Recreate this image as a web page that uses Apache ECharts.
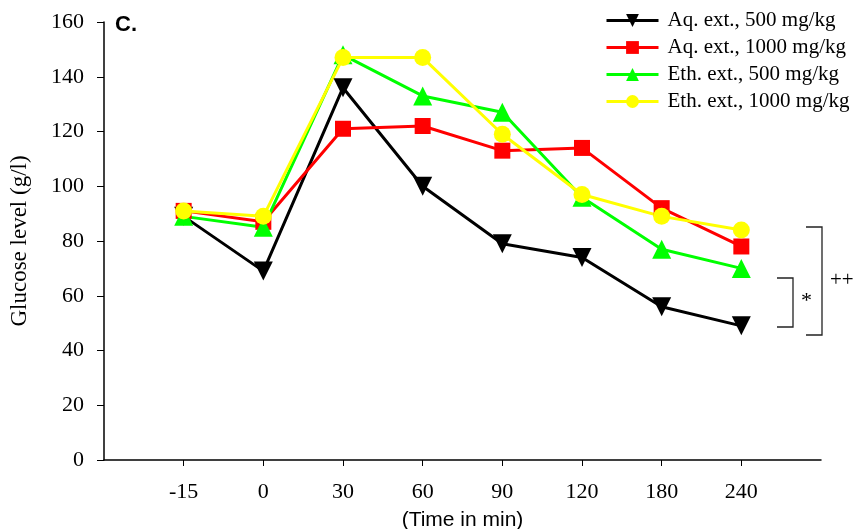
<!DOCTYPE html>
<html>
<head>
<meta charset="utf-8">
<script src="https://cdn.jsdelivr.net/npm/echarts@6/dist/echarts.min.js"></script>
<style>html,body{margin:0;padding:0;background:#fff;}#c{width:856px;height:529px;}</style>
</head>
<body>
<div id="c"></div>
<script>
const categories = ['-15', '0', '30', '60', '90', '120', '180', '240'];
const seriesNames = ['Aq. ext., 500 mg/kg', 'Aq. ext., 1000 mg/kg', 'Eth. ext., 500 mg/kg', 'Eth. ext., 1000 mg/kg'];
const aq500 = [89, 69, 136, 100, 79, 74, 56, 49];
const aq1000 = [91, 87, 121, 122, 113, 114, 92, 78];
const eth500 = [89, 85, 148, 133, 127, 96, 77, 70];
const eth1000 = [91, 89, 147, 147, 119, 97, 89, 84];
const yTicks = [0, 20, 40, 60, 80, 100, 120, 140, 160];

const chart = echarts.init(document.getElementById('c'));
const serif = 'Liberation Serif';
const sans = 'Liberation Sans';
function mk(name, data, color, symbol, size) {
  return {
    name: name, type: 'line',
    data: data.map((v, i) => [i, v]),
    symbol: symbol, symbolSize: size,
    lineStyle: { color: color, width: 3 },
    itemStyle: { color: color },
    emphasis: { disabled: true },
    animation: false, z: 3
  };
}
const idx = categories.map((c, i) => i);
chart.setOption({
  animation: false,
  grid: { left: 104, right: 35, top: 22, bottom: 69, outerBoundsMode: 'none', containLabel: false },
  legend: {
    orient: 'vertical', left: 600, top: 5,
    itemWidth: 52, itemHeight: 16, itemGap: 6,
    lineStyle: { width: 3 },
    textStyle: { fontFamily: serif, fontSize: 21, color: '#000', padding: [0, 0, 0, 4] },
    data: seriesNames
  },
  xAxis: {
    type: 'value', min: -1, max: 8, interval: 1,
    splitLine: { show: false },
    axisLine: { onZero: false, lineStyle: { color: '#000', width: 1.5 } },
    axisTick: { show: true, length: 6, lineStyle: { color: '#000' }, customValues: idx },
    axisLabel: { customValues: idx, color: '#000', fontFamily: serif, fontSize: 22, margin: 21,
      formatter: v => categories[v] },
    name: '(Time in min)', nameLocation: 'middle', nameGap: 50,
    nameTextStyle: { fontFamily: sans, fontSize: 21, color: '#000' }
  },
  yAxis: {
    type: 'value', min: 0, max: 160, interval: 20,
    splitLine: { show: false },
    axisLine: { show: true, onZero: false, lineStyle: { color: '#000', width: 1.5 } },
    axisTick: { show: true, length: 7, lineStyle: { color: '#000' } },
    axisLabel: { color: '#000', fontFamily: serif, fontSize: 22, margin: 20 },
    name: 'Glucose level (g/l)', nameLocation: 'middle', nameGap: 73,
    nameTextStyle: { fontFamily: serif, fontSize: 23, color: '#000' }
  },
  series: [
    mk(seriesNames[0], aq500, '#000000', 'path://M0,0 L10,0 L5,9 Z', 19),
    mk(seriesNames[1], aq1000, '#ff0000', 'rect', 16),
    mk(seriesNames[2], eth500, '#00ff00', 'triangle', 19),
    mk(seriesNames[3], eth1000, '#ffff00', 'circle', 17)
  ],
  graphic: [
    { type: 'text', left: 115, top: 14, style: { text: 'C.', font: 'bold 22px "Liberation Sans"', fill: '#000' } },
    { type: 'polyline', shape: { points: [[777, 278], [793, 278], [793, 327], [777, 327]] }, style: { stroke: '#222', lineWidth: 1.3, fill: null } },
    { type: 'text', left: 801, top: 290, style: { text: '*', font: '22px "Liberation Serif"', fill: '#000' } },
    { type: 'polyline', shape: { points: [[806, 227], [822, 227], [822, 335], [806, 335]] }, style: { stroke: '#222', lineWidth: 1.3, fill: null } },
    { type: 'text', left: 830, top: 270, style: { text: '++', font: '21px "Liberation Serif"', fill: '#000' } }
  ]
});
</script>
</body>
</html>
